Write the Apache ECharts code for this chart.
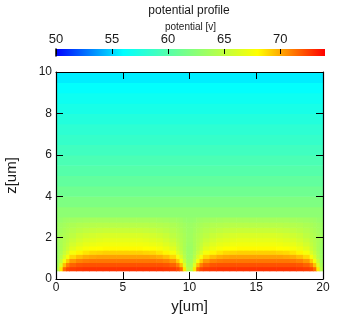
<!DOCTYPE html>
<html>
<head>
<meta charset="utf-8">
<script src="https://cdn.jsdelivr.net/npm/echarts@6/dist/echarts.min.js"></script>
<style>html,body{margin:0;padding:0;background:#fff;}#c{width:345px;height:316px;}</style>
</head>
<body>
<div id="c"></div>
<script>
// ---- data ----
// column edges along y (finer near the electrode edges); one period 0..10 repeated in 10..20
const yEdges = [0,0.25,0.5,0.75,1,1.5,2,2.5,3,3.5,4,4.5,5,5.5,6,6.5,7,7.5,8,8.5,9,9.25,9.5,9.75,10,
                10.25,10.5,10.75,11,11.5,12,12.5,13,13.5,14,14.5,15,15.5,16,16.5,17,17.5,18,18.5,19,19.25,19.5,19.75,20];
const zEdgesBottom = [0.4,0.6,0.8,1.0,1.2,1.4,1.6,1.8,2.0,2.25,2.5,2.75,3.0];
const bottomHalfRows = [
  [64.5,68.5,71.5,72.3, 72.6,72.7,72.8,72.8,72.8,72.8,72.8,72.8,72.8,72.8,72.8,72.8,72.8,72.8,72.7,72.6, 72.3,71.5,68.5,64.5],
  [64.0,66.5,69.5,71.0, 71.7,72.0,72.1,72.1,72.1,72.1,72.1,72.1,72.1,72.1,72.1,72.1,72.1,72.1,72.0,71.7, 71.0,69.5,66.5,64.0],
  [63.6,65.3,67.5,69.2, 70.4,70.9,71.1,71.2,71.2,71.2,71.2,71.2,71.2,71.2,71.2,71.2,71.2,71.1,70.9,70.4, 69.2,67.5,65.3,63.6],
  [63.4,64.6,66.2,67.6, 68.9,69.5,69.9,70.1,70.2,70.2,70.2,70.2,70.2,70.2,70.2,70.2,70.1,69.9,69.5,68.9, 67.6,66.2,64.6,63.4],
  [63.3,64.2,65.3,66.3, 67.6,68.2,68.6,68.9,69.0,69.1,69.1,69.1,69.1,69.1,69.1,69.0,68.9,68.6,68.2,67.6, 66.3,65.3,64.2,63.3],
  [63.3,64.0,64.8,65.5, 66.6,67.2,67.6,67.9,68.0,68.1,68.1,68.1,68.1,68.1,68.1,68.0,67.9,67.6,67.2,66.6, 65.5,64.8,64.0,63.3],
  [63.4,64.0,64.6,65.1, 65.9,66.5,66.9,67.1,67.3,67.4,67.4,67.4,67.4,67.4,67.4,67.3,67.1,66.9,66.5,65.9, 65.1,64.6,64.0,63.4],
  [63.5,64.0,64.4,64.8, 65.4,65.9,66.3,66.5,66.7,66.8,66.8,66.8,66.8,66.8,66.8,66.7,66.5,66.3,65.9,65.4, 64.8,64.4,64.0,63.5],
  [63.5,63.9,64.2,64.5, 64.9,65.4,65.7,65.9,66.1,66.2,66.2,66.2,66.2,66.2,66.2,66.1,65.9,65.7,65.4,64.9, 64.5,64.2,63.9,63.5],
  [63.4,63.7,64.0,64.2, 64.5,64.8,65.0,65.2,65.3,65.4,65.4,65.4,65.4,65.4,65.4,65.3,65.2,65.0,64.8,64.5, 64.2,64.0,63.7,63.4],
  [63.3,63.5,63.7,63.9, 64.1,64.3,64.4,64.5,64.6,64.6,64.6,64.6,64.6,64.6,64.6,64.6,64.5,64.4,64.3,64.1, 63.9,63.7,63.5,63.3],
  [63.0,63.1,63.3,63.4, 63.5,63.6,63.7,63.8,63.8,63.8,63.8,63.8,63.8,63.8,63.8,63.8,63.8,63.7,63.6,63.5, 63.4,63.3,63.1,63.0]
];
// upper rows: no visible change along y
const zEdgesTop = [3.0,3.5,4.0,4.5,5.0,5.5,6.0,6.5,7.0,7.5,8.0,8.5,9.0,9.5,10.0];
const topValues = [62.6,61.9,61.2,60.6,60.0,59.5,59.0,58.5,58.1,57.6,57.1,56.6,56.1,55.6];

const colorMin = 50, colorMax = 74;
const paletteColors = ['#0000ff','#00ffff','#80ff80','#ffff00','#ff0000'];
const colorbarTicks = [50,55,60,65,70];
const yTicks = [0,5,10,15,20];
const zTicks = [0,2,4,6,8,10];

// ---- build cells ----
const cells = [];
bottomHalfRows.forEach((half, r) => {
  const row = half.concat(half);
  for (let i = 0; i < row.length; i++) {
    cells.push([yEdges[i], yEdges[i+1], zEdgesBottom[r], zEdgesBottom[r+1], row[i]]);
  }
});
topValues.forEach((v, r) => {
  cells.push([yEdges[0], yEdges[yEdges.length-1], zEdgesTop[r], zEdgesTop[r+1], v]);
});

const FONT = 'Liberation Sans';
const txt = '#1a1a1a';
const chart = echarts.init(document.getElementById('c'), null, {renderer: 'canvas'});

function cellRender(params, api) {
  const p0 = api.coord([api.value(0), api.value(3)]);
  const p1 = api.coord([api.value(1), api.value(2)]);
  return {
    type: 'rect',
    shape: {x: p0[0], y: p0[1], width: p1[0]-p0[0] + 0.6, height: p1[1]-p0[1] + 0.6},
    style: {fill: api.visual('color'), stroke: null}
  };
}
function barRender(params, api) {
  const p0 = api.coord([api.value(0), 1]);
  const p1 = api.coord([api.value(1), 0]);
  return {
    type: 'rect',
    shape: {x: p0[0], y: p0[1], width: p1[0]-p0[0], height: p1[1]-p0[1]},
    style: {
      fill: new echarts.graphic.LinearGradient(0, 0, 1, 0,
        paletteColors.map((c, i) => ({offset: i/(paletteColors.length-1), color: c})))
    }
  };
}

const tickStyle = {show: true, inside: true, length: 7, lineStyle: {color: '#000', width: 1}};
const lineStyle = {show: true, onZero: false, lineStyle: {color: '#000', width: 1.2}};

chart.setOption({
  animation: false,
  backgroundColor: '#fff',
  graphic: [
    {type: 'text', x: 189, y: 11, style: {text: 'potential profile', font: '12px "Liberation Sans"', fill: txt, align: 'center', verticalAlign: 'middle'}}
  ],
  grid: [
    {left: 56, right: 22, top: 72, bottom: 37, show: false, outerBoundsMode: 'none', containLabel: false},
    {left: 56, right: 20, top: 49, height: 7, show: false, outerBoundsMode: 'none', containLabel: false}
  ],
  visualMap: {
    show: false, type: 'continuous', min: colorMin, max: colorMax, dimension: 4, seriesIndex: 0,
    inRange: {color: paletteColors}
  },
  xAxis: [
    {gridIndex: 0, type: 'value', min: 0, max: 20, interval: 5, position: 'bottom', z: 10,
     axisLine: lineStyle, axisTick: tickStyle, splitLine: {show: false},
     axisLabel: {customValues: yTicks, fontFamily: FONT, fontSize: 12, color: txt, margin: 3},
     name: 'y[um]', nameLocation: 'middle', nameGap: 14,
     nameTextStyle: {fontFamily: FONT, fontSize: 15, color: txt}},
    {gridIndex: 0, type: 'value', min: 0, max: 20, interval: 5, position: 'top', z: 10,
     axisLine: lineStyle, axisTick: tickStyle, splitLine: {show: false}, axisLabel: {show: false}},
    {gridIndex: 1, type: 'value', min: colorMin, max: colorMax, interval: 5, position: 'top', z: 10,
     axisLine: {show: false, onZero: false}, splitLine: {show: false},
     axisTick: {show: true, inside: true, length: 5, customValues: colorbarTicks, lineStyle: {color: '#000', width: 1}},
     axisLabel: {customValues: colorbarTicks, fontFamily: FONT, fontSize: 13, color: txt, margin: 3},
     name: 'potential [v]', nameLocation: 'middle', nameGap: 9,
     nameTextStyle: {fontFamily: FONT, fontSize: 10, color: txt}}
  ],
  yAxis: [
    {gridIndex: 0, type: 'value', min: 0, max: 10, interval: 2, position: 'left', z: 10,
     axisLine: lineStyle, axisTick: tickStyle, splitLine: {show: false},
     axisLabel: {customValues: zTicks, fontFamily: FONT, fontSize: 12, color: txt, margin: 4},
     name: 'z[um]', nameLocation: 'middle', nameGap: 37,
     nameTextStyle: {fontFamily: FONT, fontSize: 15, color: txt}},
    {gridIndex: 0, type: 'value', min: 0, max: 10, interval: 2, position: 'right', z: 10,
     axisLine: lineStyle, axisTick: tickStyle, splitLine: {show: false}, axisLabel: {show: false}},
    {gridIndex: 1, type: 'value', min: 0, max: 1, position: 'left', z: 10,
     axisLine: {show: true, onZero: false, lineStyle: {color: '#000', width: 1.5}}, axisTick: {show: false},
     axisLabel: {show: false}, splitLine: {show: false}}
  ],
  series: [
    {type: 'custom', xAxisIndex: 0, yAxisIndex: 0, renderItem: cellRender,
     encode: {x: [0, 1], y: [2, 3]}, data: cells, z: 1},
    {type: 'custom', xAxisIndex: 2, yAxisIndex: 2, renderItem: barRender,
     encode: {x: [0, 1]}, data: [[colorMin, colorMax]], z: 1}
  ]
});
</script>
</body>
</html>
